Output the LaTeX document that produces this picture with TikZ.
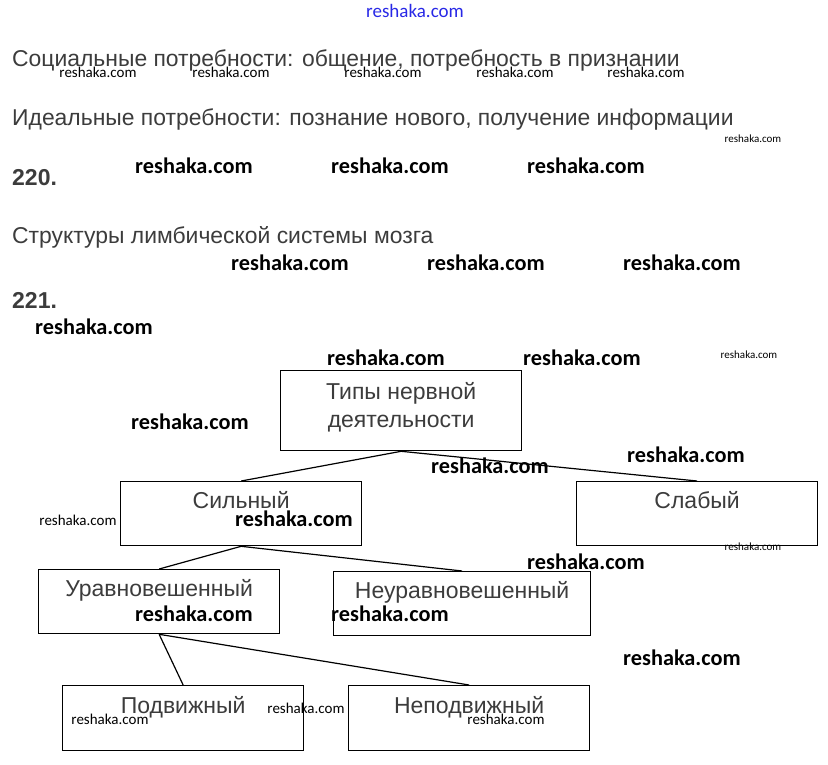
\documentclass[tikz,border=0pt]{standalone}
\usepackage{fontspec}
\setmainfont{Liberation Sans}
\newfontfamily\wmfont{Carlito}
\usepackage{xcolor}
\usetikzlibrary{positioning}

\definecolor{txtgray}{RGB}{60,60,60}
\definecolor{wmblue}{RGB}{40,40,230}

\begin{document}
\begin{tikzpicture} [
	x=1pt, y=-1pt, % pixel grid of the scan
	box/.style={draw, line width=1.3pt, anchor=north west, inner sep=0pt,
		minimum width=241pt, text height=27pt, text depth=37pt,
		font=\fontsize{23}{28}\selectfont, text=txtgray, align=center}, % the boxes of the scheme
	line/.style={line width=1.2pt}, % connectors between boxes
	head/.style={anchor=base west, inner sep=0pt, text=txtgray,
		font=\fontsize{22.9}{25}\selectfont}, % lines of the answer
	num/.style={anchor=base west, inner sep=0pt, text=txtgray,
		font=\fontsize{23}{25}\selectfont\bfseries},
	wmbig/.style={inner sep=0pt, font=\wmfont\bfseries\fontsize{22.3}{22}\selectfont},
	wmsmall/.style={inner sep=0pt, font=\wmfont\fontsize{15}{15}\selectfont},
	wmtiny/.style={inner sep=0pt, font=\wmfont\fontsize{11}{11}\selectfont},
	]
	\useasboundingbox (0,0) rectangle (828,764);

	% answer text
	\node[head] (social) at (12,66) {Социальные потребности: общение, потребность в признании};
	\node[head] (ideal) at (12,125) {Идеальные потребности: познание нового, получение информации};
	\node[num] (n220) at (12,185) {220.};
	\node[head] (limbic) at (12,243) {Структуры лимбической системы мозга};
	\node[num] (n221) at (12,308) {221.};

	% scheme
	\node[box, text height=57pt, text depth=23pt] (types) at (280,370) {Типы нервной\\деятельности};
	\node[box] (strong) at (120,481) {Сильный};
	\node[box] (weak) at (576,481) {Слабый};
	\node[box] (bal) at (38,569) {Уравновешенный};
	\node[box, minimum width=257pt] (unbal) at (333,571) {Неуравновешенный};
	\node[box, minimum height=65pt] (mob) at (62,685) {Подвижный};
	\node[box, minimum height=65pt] (immob) at (348,685) {Неподвижный};

	\draw[line]
		(types.south) -- (strong.north)
		(types.south) -- (weak.north)
		(strong.south) -- (bal.north)
		(strong.south) -- (unbal.north)
		(bal.south) -- (mob.north)
		(bal.south) -- (immob.north)
	;

	% watermarks
	\node[inner sep=0pt, text=wmblue, font=\wmfont\fontsize{19}{19}\selectfont] (wmtop) at (415,11) {reshaka.com};
	\foreach \x/\y [count=\i] in {194/166, 390/166, 586/166, 290/263, 486/263, 682/263,
		94/327, 386/358, 582/358, 190/422, 490/466, 686/455, 294/519, 586/562,
		194/614, 390/614, 682/658}
		\node[wmbig] (wb\i) at (\x,\y) {reshaka.com};
	\foreach \x/\y [count=\i] in {98/72, 231/72, 383/72, 515/72, 646/72,
		78/520, 110/719, 306/708, 506/719}
		\node[wmsmall] (ws\i) at (\x,\y) {reshaka.com};
	\foreach \x/\y [count=\i] in {753/139, 749/355, 753/547}
		\node[wmtiny] (wt\i) at (\x,\y) {reshaka.com};
\end{tikzpicture}
\end{document}
